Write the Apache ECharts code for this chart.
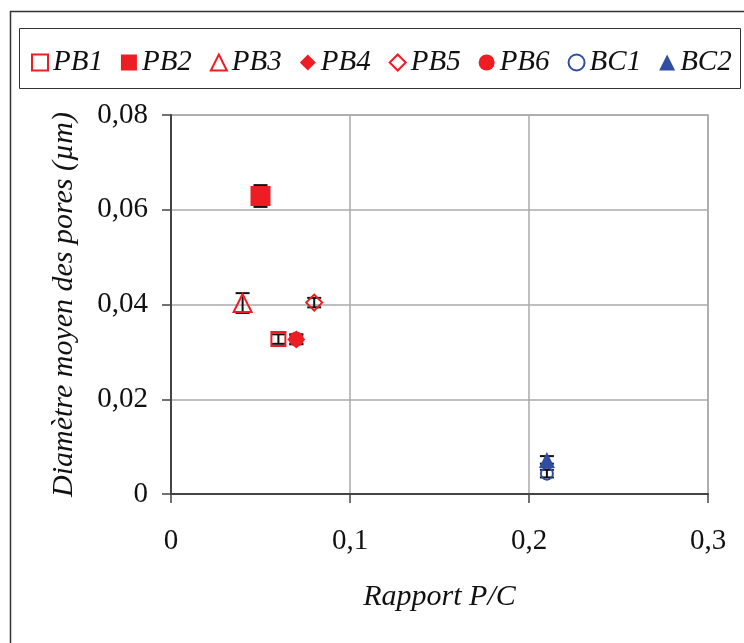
<!DOCTYPE html>
<html><head><meta charset="utf-8">
<script src="https://cdn.jsdelivr.net/npm/echarts@6/dist/echarts.min.js"></script>
<style>html,body{margin:0;padding:0;background:#fff}#c{width:744px;height:643px}</style>
</head><body><div id="c"></div>
<script>
const names = ['PB1','PB2','PB3','PB4','PB5','PB6','BC1','BC2'];
const ratio = [0.06, 0.05, 0.04, 0.07, 0.08, 0.07, 0.21, 0.21];
const diameter = [0.0327, 0.0629, 0.0403, 0.0326, 0.0404, 0.0327, 0.0043, 0.0072];
const errors = [0.0010, 0.0023, 0.0021, 0.0010, 0.0010, 0.0010, 0.0008, 0.0008];
const xTicks = [0, 0.1, 0.2, 0.3];
const yTicks = [0, 0.02, 0.04, 0.06, 0.08];

const RED = '#ee1d23', BLUE = '#2e4da3';
const styles = {
  PB1: {symbol:'rect', size:14, color:RED, open:true},
  PB2: {symbol:'rect', size:20, color:RED, open:false},
  PB3: {symbol:'triangle', size:18, color:RED, open:true},
  PB4: {symbol:'diamond', size:18, color:RED, open:false},
  PB5: {symbol:'diamond', size:16, color:RED, open:true},
  PB6: {symbol:'circle', size:15, color:RED, open:false},
  BC1: {symbol:'circle', size:12, color:BLUE, open:true},
  BC2: {symbol:'triangle', size:16, color:BLUE, open:false}
};
const fmt = v => String(+v.toFixed(2)).replace('.', ',');
const FONT = '"Liberation Serif","Times New Roman",serif';

const series = [];
series.push({
  type:'custom', name:'err', z:1, silent:true,
  data: names.map((n,i)=>[ratio[i], diameter[i]-errors[i], diameter[i]+errors[i]]),
  renderItem:(params, api)=>{
    const lo = api.coord([api.value(0), api.value(1)]);
    const hi = api.coord([api.value(0), api.value(2)]);
    const w = 7;
    const st = {stroke:'#111', lineWidth:2};
    return {type:'group', children:[
      {type:'line', shape:{x1:lo[0],y1:lo[1],x2:hi[0],y2:hi[1]}, style:st},
      {type:'line', shape:{x1:lo[0]-w,y1:lo[1],x2:lo[0]+w,y2:lo[1]}, style:st},
      {type:'line', shape:{x1:hi[0]-w,y1:hi[1],x2:hi[0]+w,y2:hi[1]}, style:st}
    ]};
  }
});
names.forEach((n,i)=>{
  const s = styles[n];
  series.push({
    type:'scatter', name:n, z:3,
    symbol:s.symbol, symbolSize:s.size,
    data:[[ratio[i], diameter[i]]],
    itemStyle: s.open ? {color:'rgba(255,255,255,0)', borderColor:s.color, borderWidth:2, opacity:1}
                      : {color:s.color, borderColor:s.color, borderWidth:0, opacity:1}
  });
});

const chart = echarts.init(document.getElementById('c'));
chart.setOption({
  animation:false,
  backgroundColor:'#fff',
  graphic:[
    {type:'rect', shape:{x:10.5,y:11.5,width:800,height:700}, style:{fill:'none', stroke:'#333', lineWidth:1.5}, z:-1},
    {type:'rect', shape:{x:19.5,y:28.5,width:721,height:60}, style:{fill:'none', stroke:'#333', lineWidth:1}, z:-1}
  ],
  legend:{
    data: names.map(n=>({name:n, icon:styles[n].symbol,
      itemStyle: styles[n].open ? {color:'#fff', borderColor:styles[n].color, borderWidth:2, opacity:1} : {color:styles[n].color, opacity:1}})),
    left:26, top:43, itemWidth:16, itemHeight:16, itemGap:18,
    textStyle:{fontFamily:FONT, fontStyle:'italic', fontSize:29, color:'#111'}
  },
  grid:{left:171, right:36, top:115, bottom:149, show:true, borderColor:'#aaa', borderWidth:1.5},
  xAxis:{
    type:'value', min:0, max:0.3, interval:0.1,
    name:'Rapport P/C', nameLocation:'middle', nameGap:88,
    nameTextStyle:{fontFamily:FONT, fontStyle:'italic', fontSize:30, color:'#111'},
    axisLine:{lineStyle:{color:'#444', width:2}},
    axisTick:{show:true, inside:false, length:9, lineStyle:{color:'#444', width:1.5}},
    axisLabel:{formatter:fmt, fontFamily:FONT, fontSize:29, color:'#111', margin:33},
    splitLine:{show:true, lineStyle:{color:'#aaa', width:1.5}}
  },
  yAxis:{
    type:'value', min:0, max:0.08, interval:0.02,
    name:'Diamètre moyen des pores (µm)', nameLocation:'middle', nameGap:92,
    nameTextStyle:{fontFamily:FONT, fontStyle:'italic', fontSize:30, color:'#111'},
    axisLine:{show:true, lineStyle:{color:'#444', width:2}},
    axisTick:{show:true, inside:false, length:9, lineStyle:{color:'#444', width:1.5}},
    axisLabel:{formatter:fmt, fontFamily:FONT, fontSize:29, color:'#111', margin:23},
    splitLine:{show:true, lineStyle:{color:'#aaa', width:1.5}}
  },
  series
});
</script></body></html>
